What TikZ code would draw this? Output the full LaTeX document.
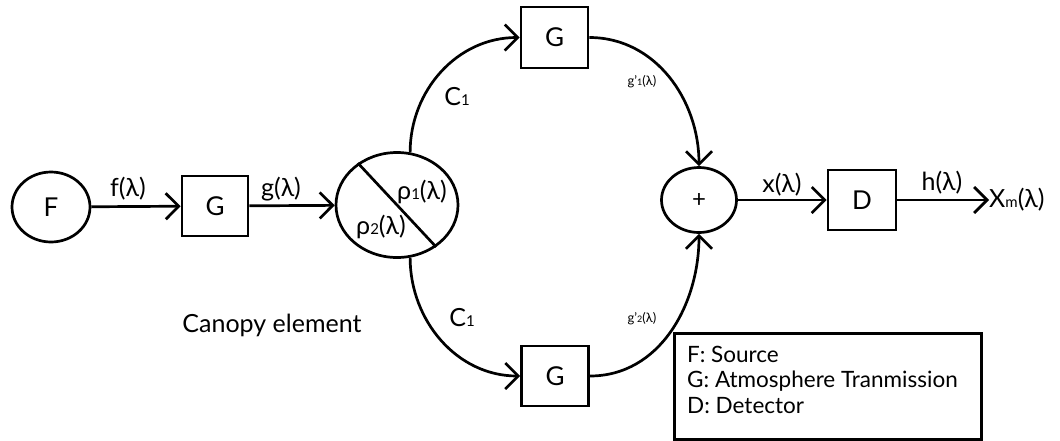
\documentclass[tikz,border=0pt]{standalone}
\usepackage{fontspec}
\setmainfont{Lato}
\usetikzlibrary{arrows.meta,shapes.geometric}
\newcommand{\sm}[1]{{\fontsize{15}{15}\selectfont #1}}
\newcommand{\tn}[1]{{\fontsize{9}{9}\selectfont #1}}
\begin{document}
\begin{tikzpicture}[x=1pt,y=1pt,
  lw/.style={line width=2.7pt},
  blk/.style={draw,lw,minimum width=66pt,minimum height=60pt,inner sep=0pt,font=\fontsize{26}{26}\selectfont},
  ell/.style={draw,lw,ellipse,inner sep=0pt,font=\fontsize{26}{26}\selectfont},
  arr/.style={lw,-{Straight Barb[length=13pt,width=26pt]}},
  lab/.style={font=\fontsize{25}{25}\selectfont,inner sep=0pt},
  slab/.style={font=\fontsize{13}{13}\selectfont,inner sep=0pt},
  leg/.style={font=\fontsize{22.5}{22.5}\selectfont,inner sep=0pt,anchor=base west}]
\useasboundingbox (0,0) rectangle (1060,-440);

\node[ell,minimum width=78pt,minimum height=70pt] (F) at (51,-207) {F};
\node[blk] (G1) at (215,-206) {G};
\node[ell,minimum width=122pt,minimum height=105pt] (C) at (397,-205) {};
\node[blk,minimum width=67pt,minimum height=61pt] (Gt) at (554.5,-37.5) {G};
\node[blk,minimum width=67pt] (Gb) at (555,-376) {G};
\node[ell,minimum width=75pt,minimum height=65pt,font=\fontsize{24}{24}\selectfont] (P) at (699,-200) {+};
\node[blk,minimum width=68pt] (D) at (862,-200) {D};
\node[lab,anchor=west] (X) at (989,-200) {X\sm{m}(λ)};

\draw[arr] (F) -- (G1);
\draw[arr] (G1) -- (C);
\draw[lw] (C.133) -- (C.-47);
\draw[arr] (C.76) to[out=90,in=180] (Gt.west);
\draw[arr] (C.-76) to[out=-90,in=180] (Gb.west);
\draw[arr] (Gt.east) to[out=0,in=90] (P.north);
\draw[arr] (Gb.east) to[out=0,in=-90] (P.south);
\draw[arr] (P) -- (D);
\draw[arr] (D) -- (X);

\node[lab] (lf) at (128,-189) {f(λ)};
\node[lab] (lg) at (281,-189) {g(λ)};
\node[lab] (lr1) at (422,-192) {ρ\sm{1}(λ)};
\node[lab] (lr2) at (381,-227) {ρ\sm{2}(λ)};
\node[lab] (lc1) at (457,-97) {C\sm{1}};
\node[lab] (lc2) at (462,-318) {C\sm{1}};
\node[slab] (lg1) at (642,-82) {g’\tn{1}(λ)};
\node[slab] (lg2) at (642,-319) {g’\tn{2}(λ)};
\node[lab] (lx) at (782,-185) {x(λ)};
\node[lab] (lh) at (942,-183) {h(λ)};
\node[lab] (can) at (272,-325) {Canopy element};

\node[draw,lw,minimum width=307pt,minimum height=106pt,anchor=north west,inner sep=0pt] (L) at (673,-332) {};
\node[leg] (L1) at (687,-362) {F: Source};
\node[leg] (L2) at (687,-387) {G: Atmosphere Tranmission};
\node[leg] (L3) at (687,-413) {D: Detector};
\end{tikzpicture}
\end{document}
